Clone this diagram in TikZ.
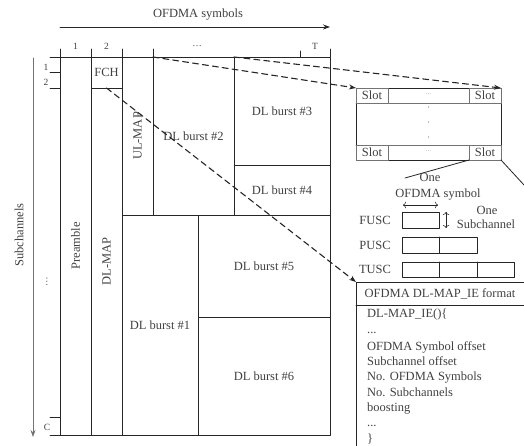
\documentclass[tikz,border=0pt]{standalone}
\usepackage{fontspec}
\setmainfont{Liberation Serif}
\usetikzlibrary{arrows.meta}

\begin{document}
\begin{tikzpicture}[x=1pt, y=-1pt, line cap=round, line join=round,
  txt/.style={font=\fontsize{12.5}{14}\selectfont, text=black!75, inner sep=0pt},
  idx/.style={font=\fontsize{9.5}{11}\selectfont, text=black!75, inner sep=0pt},
  vtxt/.style={txt, rotate=90},
  cell/.style={draw=black!85, line width=0.8pt, outer sep=0pt, inner sep=0pt,
    font=\fontsize{12.5}{14}\selectfont, text=black!75},
  slotcell/.style={cell, draw=black!55, minimum width=32pt, minimum height=15pt},
  dasharrow/.style={draw=black!85, line width=1.1pt, dash pattern=on 6pt off 4pt,
    -{Stealth[length=7pt,width=5pt]}},
  ]
% OFDMA downlink frame exported by hand, 1pt = 1px
\def\frmCol{black!85}
\useasboundingbox (0,0) rectangle (524,446);

% Axes
\draw[\frmCol, line width=0.8pt, -{Stealth[length=7pt,width=5pt]}] (60,27) -- (330,27);
\node[txt] (symAxis) at (198,15) {OFDMA symbols};
\draw[black!55, line width=0.8pt, -{Stealth[length=7pt,width=5pt]}] (33,58) -- (33,437);
\node[vtxt] (subAxis) at (19,235) {Subchannels};

% Header line and index ticks
\begin{scope}[draw=\frmCol, line width=0.8pt]
  \draw (50,57) -- (330,57);
  \draw (50,435) -- (122,435);
  \foreach \x in {60,91,122,153,330}
    \draw (\x,49) -- (\x,57);
  \draw (300,51) -- (300,57);
  \draw (50,72) -- (60,72);
  \draw (50,88) -- (60,88);
  \draw (50,417) -- (60,417);
\end{scope}
\node[idx] (colOne) at (75.5,46) {1};
\node[idx] (colTwo) at (106.5,46) {2};
\node[idx] (colDots) at (197,46) {\dots};
\node[idx] (colT) at (315,46) {T};
\node[idx] (rowOne) at (46,67) {1};
\node[idx] (rowTwo) at (46,82) {2};
\node[idx, rotate=90] (rowDots) at (47,282) {\dots};
\node[idx] (rowC) at (47,427) {C};

% Frame cells
\node[cell, minimum width=31pt, minimum height=378pt] (pre) at (75.5,246) {};
\node[vtxt] (preLbl) at (pre) {Preamble};
\node[cell, minimum width=31pt, minimum height=31pt] (fch) at (106.5,72.5) {FCH};
\node[cell, minimum width=31pt, minimum height=347pt] (dlmap) at (106.5,261.5) {};
\node[vtxt] (dlmapLbl) at (dlmap) {DL-MAP};
\node[cell, minimum width=31pt, minimum height=158pt] (ulmap) at (137.5,136) {};
\node[vtxt] (ulmapLbl) at (ulmap) {UL-MAP};
\node[cell, minimum width=81pt, minimum height=158pt] (dlbB) at (193.5,136) {DL burst \#2};
\node[cell, minimum width=96pt, minimum height=108pt] (dlbC) at (282,111) {DL burst \#3};
\node[cell, minimum width=96pt, minimum height=50pt] (dlbD) at (282,190) {DL burst \#4};
\node[cell, minimum width=76pt, minimum height=220pt] (dlbA) at (160,325) {DL burst \#1};
\node[cell, minimum width=132pt, minimum height=102pt] (dlbE) at (264,266) {DL burst \#5};
\node[cell, minimum width=132pt, minimum height=118pt] (dlbF) at (264,376) {DL burst \#6};

% Slot matrix
\node[cell, minimum width=145pt, minimum height=72pt] (slotbox) at (428.5,124) {};
\begin{scope}[draw=black!55, line width=0.8pt]
  \draw (356,103) -- (501,103);
  \draw (356,145) -- (501,145);
\end{scope}
\node[slotcell] (slotA) at (372,95.5) {Slot};
\node[slotcell] (slotB) at (485,95.5) {Slot};
\node[slotcell] (slotC) at (372,152.5) {Slot};
\node[slotcell] (slotD) at (485,152.5) {Slot};
\node[idx, font=\tiny] (slotDotsA) at (428.5,94) {\dots};
\node[idx, font=\tiny] (slotDotsB) at (428.5,151) {\dots};
\fill[black!50] (428.5,107) circle (0.6pt) (428.5,122) circle (0.6pt) (428.5,137) circle (0.6pt);
\coordinate (symTip) at (405,178);
\coordinate (edgeTip) at (524,185);
\draw[\frmCol, line width=0.8pt] (slotD.south west) -- (symTip);
\draw[\frmCol, line width=0.8pt] (slotD.south east) -- (edgeTip);

% Subcarrier permutations
\node[txt] (oneSym) at (430,177) {One};
\node[txt] (ofdmaSym) at (438,195) {OFDMA symbol};
\draw[black!85, line width=0.6pt, {To[length=3pt]}-{To[length=3pt]}] (403,205) -- (438,205);
\node[txt] (fusc) at (375,220) {FUSC};
\draw[\frmCol, line width=0.8pt] (402,212) rectangle (439,228);
\draw[black!85, line width=0.6pt, {To[length=3pt]}-{To[length=3pt]}] (446,212) -- (446,228);
\node[txt] (oneSub) at (487,210) {One};
\node[txt] (subCh) at (486,224) {Subchannel};
\node[txt] (pusc) at (375,245) {PUSC};
\draw[\frmCol, line width=0.8pt] (402,237) rectangle (477,253);
\draw[\frmCol, line width=0.8pt] (439,237) -- (439,253);
\node[txt] (tusc) at (375,269) {TUSC};
\draw[\frmCol, line width=0.8pt] (402,262) rectangle (514,277);
\draw[\frmCol, line width=0.8pt] (439,262) -- (439,277);
\draw[\frmCol, line width=0.8pt] (477,262) -- (477,277);

% DL-MAP_IE format box
\coordinate (ieCorner) at (356,282);
\draw[\frmCol, line width=0.8pt] (524,282) -- (ieCorner) -- (356,446);
\draw[\frmCol, line width=0.8pt] (356,305) -- (524,305);
\node[txt] (ieHead) at (440,294) {OFDMA DL-MAP\_IE format};
\begin{scope}[every node/.style={txt, anchor=base west}]
  \node (ieA) at (367,317) {DL-MAP\_IE()\{};
  \node (ieB) at (367,333) {...};
  \node (ieC) at (367,350) {OFDMA Symbol offset};
  \node (ieD) at (367,365) {Subchannel offset};
  \node (ieE) at (367,380) {No. OFDMA Symbols};
  \node (ieF) at (367,396) {No. Subchannels};
  \node (ieG) at (367,411) {boosting};
  \node (ieH) at (367,426) {...};
  \node (ieI) at (367,442) {\}};
\end{scope}

% Zoom-in arrows
\draw[dasharrow] (dlbB.north west) -- (slotbox.north west);
\draw[dasharrow] (dlbC.north west) -- (slotbox.north east);
\draw[dasharrow] (fch.south) -- (ieCorner);
\end{tikzpicture}
\end{document}
